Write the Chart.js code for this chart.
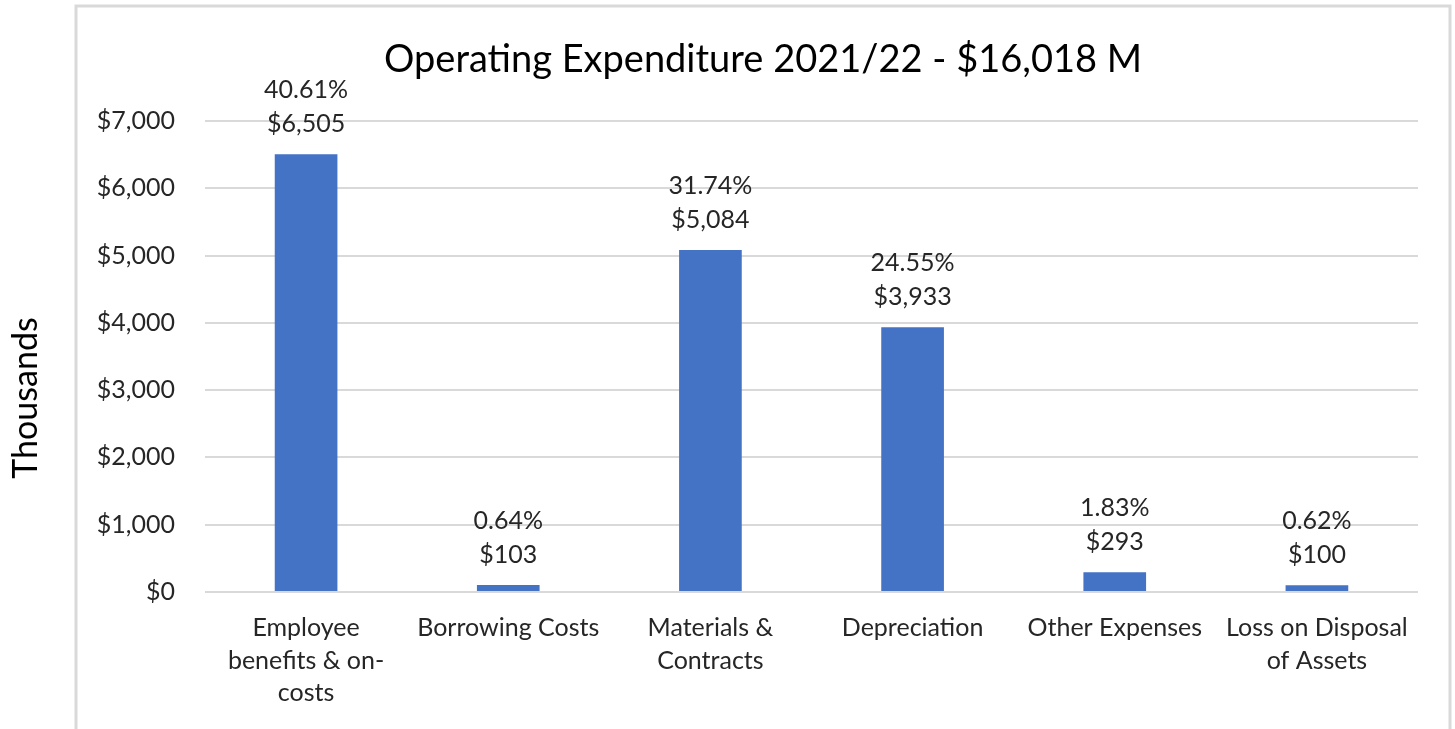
<!DOCTYPE html>
<html>
<head>
<meta charset="utf-8">
<script src="https://cdn.jsdelivr.net/npm/chart.js@4/dist/chart.umd.min.js"></script>
<style>
  html, body { margin: 0; padding: 0; background: #fff; }
  #wrap { position: relative; width: 1455px; height: 729px; }
</style>
</head>
<body>
<div id="wrap"><canvas id="opexChart"></canvas></div>
<script>
// Operating expenditure by category, $ thousands
const categories = [
    ['Employee', 'benefits & on-', 'costs'],
    'Borrowing Costs',
    ['Materials &', 'Contracts'],
    'Depreciation',
    'Other Expenses',
    ['Loss on Disposal', 'of Assets']
];
const amounts = [6505, 103, 5084, 3933, 293, 100];
const shares = ['40.61%', '0.64%', '31.74%', '24.55%', '1.83%', '0.62%'];
const yTicks = [0, 1000, 2000, 3000, 4000, 5000, 6000, 7000];
const chartTitle = 'Operating Expenditure 2021/22 - $16,018 M';

const FONT = 'Lato, "Open Sans", sans-serif';

// grey frame around the chart body, the heading centred inside it,
// and the unit caption sitting outside on the left
const framePlugin = {
    id: 'frame',
    beforeDraw(chart) {
        const ctx = chart.ctx;
        ctx.save();
        ctx.strokeStyle = '#d9d9d9';
        ctx.lineWidth = 3;
        ctx.beginPath();
        ctx.moveTo(76, 740);
        ctx.lineTo(76, 6);
        ctx.lineTo(1450, 6);
        ctx.lineTo(1450, 740);
        ctx.stroke();

        ctx.fillStyle = '#000';
        ctx.textAlign = 'center';
        ctx.textBaseline = 'middle';
        ctx.font = '38px ' + FONT;
        ctx.fillText(chartTitle, 763, 60);

        ctx.translate(26, 398);
        ctx.rotate(-Math.PI / 2);
        ctx.font = '34px ' + FONT;
        ctx.fillText('Thousands', 0, 0);
        ctx.restore();
    }
};

// two-line value labels above each bar: share, then amount
const barLabels = {
    id: 'barLabels',
    afterDatasetsDraw(chart) {
        const ctx = chart.ctx;
        const meta = chart.getDatasetMeta(0);
        ctx.save();
        ctx.font = '25px ' + FONT;
        ctx.fillStyle = '#262626';
        ctx.textAlign = 'center';
        ctx.textBaseline = 'middle';
        meta.data.forEach(function(bar, i) {
            ctx.fillText('$' + amounts[i].toLocaleString('en-US'), bar.x, bar.y - 30);
            ctx.fillText(shares[i], bar.x, bar.y - 64);
        });
        ctx.restore();
    }
};

new Chart(document.getElementById('opexChart'), {
    type: 'bar',
    data: {
        labels: categories,
        datasets: [{
            data: amounts,
            backgroundColor: '#4472C4',
            barPercentage: 0.62,
            categoryPercentage: 0.5
        }]
    },
    options: {
        responsive: true,
        maintainAspectRatio: false,
        animation: false,
        layout: { padding: { top: 121, right: 37 } },
        plugins: {
            legend: { display: false },
            tooltip: { enabled: false },
            title: { display: false }
        },
        scales: {
            x: {
                grid: { display: false, drawTicks: false },
                border: { display: false },
                ticks: {
                    color: '#262626',
                    font: { family: FONT, size: 25, lineHeight: 1.3 },
                    padding: 20,
                    maxRotation: 0,
                    autoSkip: false
                },
                afterFit(scale) { scale.height = 137; }
            },
            y: {
                min: 0,
                max: 7000,
                afterBuildTicks(scale) {
                    scale.ticks = yTicks.map(v => ({ value: v }));
                },
                grid: { color: '#d9d9d9', lineWidth: 2, drawTicks: false },
                border: { display: false },
                ticks: {
                    color: '#262626',
                    font: { family: FONT, size: 25 },
                    padding: 30,
                    callback: v => '$' + v.toLocaleString('en-US')
                },
                afterFit(scale) { scale.width = 205; }
            }
        }
    },
    plugins: [framePlugin, barLabels]
});
</script>
</body>
</html>
